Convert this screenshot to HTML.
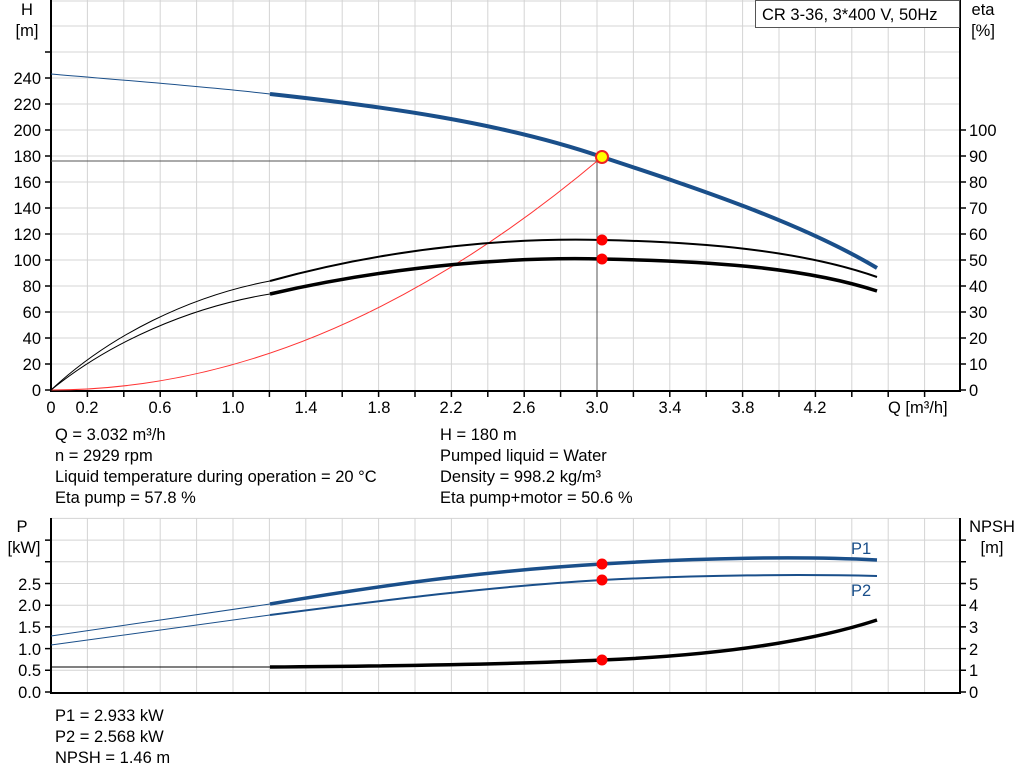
<!DOCTYPE html>
<html><head><meta charset="utf-8"><style>
body{margin:0;background:#fff}
svg{display:block;font-family:"Liberation Sans",sans-serif}
</style></head><body>
<svg width="1024" height="781" viewBox="0 0 1024 781" xmlns="http://www.w3.org/2000/svg">
<g stroke="#d4d4d4" stroke-width="1">
<path d="M87.4 0V390M123.8 0V390M160.2 0V390M196.6 0V390M233 0V390M269.4 0V390M305.8 0V390M342.2 0V390M378.6 0V390M415 0V390M451.4 0V390M487.8 0V390M524.2 0V390M560.6 0V390M597 0V390M633.4 0V390M669.8 0V390M706.2 0V390M742.6 0V390M779 0V390M815.4 0V390M851.8 0V390M888.2 0V390M924.6 0V390"/>
<path d="M51 364H959M51 338H959M51 312H959M51 286H959M51 260H959M51 234H959M51 208H959M51 182H959M51 156H959M51 130H959M51 104H959M51 78H959M51 52H959M51 26H959M51 1H959"/>
<path d="M87.4 518V692M123.8 518V692M160.2 518V692M196.6 518V692M233 518V692M269.4 518V692M305.8 518V692M342.2 518V692M378.6 518V692M415 518V692M451.4 518V692M487.8 518V692M524.2 518V692M560.6 518V692M597 518V692M633.4 518V692M669.8 518V692M706.2 518V692M742.6 518V692M779 518V692M815.4 518V692M851.8 518V692M888.2 518V692M924.6 518V692"/>
<path d="M51 670.3H959M51 648.6H959M51 626.9H959M51 605.2H959M51 583.5H959M51 561.8H959M51 540.1H959M51 518.4H959"/>
</g>
<g stroke="#000" stroke-width="2" fill="none">
<path d="M51 0V391H960V0"/>
<path d="M51 518V693H960V518"/>
</g>
<g stroke="#000" stroke-width="1.5">
<path d="M45 390H51M45 364H51M45 338H51M45 312H51M45 286H51M45 260H51M45 234H51M45 208H51M45 182H51M45 156H51M45 130H51M45 104H51M45 78H51M45 52H51"/>
<path d="M959 390H966M959 364H966M959 338H966M959 312H966M959 286H966M959 260H966M959 234H966M959 208H966M959 182H966M959 156H966M959 130H966"/>
<path d="M87.4 390V397M123.8 390V397M160.2 390V397M196.6 390V397M233 390V397M269.4 390V397M305.8 390V397M342.2 390V397M378.6 390V397M415 390V397M451.4 390V397M487.8 390V397M524.2 390V397M560.6 390V397M597 390V397M633.4 390V397M669.8 390V397M706.2 390V397M742.6 390V397M779 390V397M815.4 390V397M851.8 390V397M888.2 390V397M924.6 390V397"/>
<path d="M45 692H51M45 670.3H51M45 648.6H51M45 626.9H51M45 605.2H51M45 583.5H51M45 561.8H51M45 540.1H51"/>
<path d="M959 692H966M959 670.3H966M959 648.6H966M959 626.9H966M959 605.2H966M959 583.5H966M959 561.8H966M959 540.1H966"/>
</g>
<g font-size="16.5" fill="#000" text-anchor="end">
<text x="41" y="396">0</text><text x="41" y="370">20</text><text x="41" y="344">40</text><text x="41" y="318">60</text><text x="41" y="292">80</text><text x="41" y="266">100</text><text x="41" y="240">120</text><text x="41" y="214">140</text><text x="41" y="188">160</text><text x="41" y="162">180</text><text x="41" y="136">200</text><text x="41" y="110">220</text><text x="41" y="84">240</text>
<text x="41" y="698">0.0</text><text x="41" y="676">0.5</text><text x="41" y="655">1.0</text><text x="41" y="633">1.5</text><text x="41" y="611">2.0</text><text x="41" y="590">2.5</text>
</g>
<g font-size="16.5" fill="#000">
<text x="969" y="396">0</text><text x="969" y="370">10</text><text x="969" y="344">20</text><text x="969" y="318">30</text><text x="969" y="292">40</text><text x="969" y="266">50</text><text x="969" y="240">60</text><text x="969" y="214">70</text><text x="969" y="188">80</text><text x="969" y="162">90</text><text x="969" y="136">100</text>
<text x="969" y="698">0</text><text x="969" y="676">1</text><text x="969" y="655">2</text><text x="969" y="633">3</text><text x="969" y="611">4</text><text x="969" y="590">5</text>
</g>
<g font-size="16.5" fill="#000" text-anchor="middle">
<text x="51" y="413">0</text><text x="87" y="413">0.2</text><text x="160" y="413">0.6</text><text x="233" y="413">1.0</text><text x="306" y="413">1.4</text><text x="379" y="413">1.8</text><text x="451" y="413">2.2</text><text x="524" y="413">2.6</text><text x="597" y="413">3.0</text><text x="670" y="413">3.4</text><text x="743" y="413">3.8</text><text x="815" y="413">4.2</text>
<text x="27" y="15">H</text><text x="27" y="36">[m]</text>
<text x="983" y="15">eta</text><text x="983" y="36">[%]</text>
<text x="22" y="532">P</text><text x="24" y="553">[kW]</text>
<text x="992" y="532">NPSH</text><text x="992" y="553">[m]</text>
</g>
<text x="888" y="413" font-size="16.5">Q [m³/h]</text>
<rect x="755.5" y="0.5" width="204" height="27" fill="#fff" stroke="#555"/>
<text x="762" y="20" font-size="16.5">CR 3-36, 3*400 V, 50Hz</text>
<path d="M51 161H602M597 161V390" stroke="#555" stroke-width="1" fill="none"/>
<path d="M51 390 Q326 390 602 157" stroke="#f33" stroke-width="1" fill="none"/>
<path d="M51 74 C120 80 200 86 270 94" stroke="#1a4f8a" stroke-width="1" fill="none"/>
<path d="M270 94 C380 106 500 122 602 157 C690 186 800 222 877 268" stroke="#1a4f8a" stroke-width="4" fill="none"/>
<path d="M51 390 C110 335 190 296 270 281" stroke="#000" stroke-width="1" fill="none"/>
<path d="M270 281 C400 245 520 238 602 240 C700 242 800 250 877 277" stroke="#000" stroke-width="2" fill="none"/>
<path d="M51 390 C110 342 190 307 270 294" stroke="#000" stroke-width="1" fill="none"/>
<path d="M270 294 C400 264 520 257 602 259 C700 261 800 266 877 291" stroke="#000" stroke-width="3.5" fill="none"/>
<circle cx="602" cy="240" r="5.5" fill="#f00"/><circle cx="602" cy="259" r="5.5" fill="#f00"/>
<circle cx="602" cy="157" r="6" fill="#ff0" stroke="#e22" stroke-width="2"/>
<path d="M51 636 L270 604" stroke="#1a4f8a" stroke-width="1" fill="none"/>
<path d="M270 604 C400 582 500 570 602 564 C700 558 800 556 877 560" stroke="#1a4f8a" stroke-width="3.5" fill="none"/>
<path d="M51 645 L270 615" stroke="#1a4f8a" stroke-width="1" fill="none"/>
<path d="M270 615 C400 598 500 586 602 580 C700 575 800 574 877 576" stroke="#1a4f8a" stroke-width="2" fill="none"/>
<path d="M51 667H270" stroke="#000" stroke-width="1"/>
<path d="M270 667 C400 666 520 664 602 660 C700 656 800 645 877 620" stroke="#000" stroke-width="3.5" fill="none"/>
<circle cx="602" cy="564" r="5.5" fill="#f00"/><circle cx="602" cy="580" r="5.5" fill="#f00"/><circle cx="602" cy="660" r="5.5" fill="#f00"/>
<text x="851" y="554" font-size="16.5" fill="#1a4f8a">P1</text>
<text x="851" y="596" font-size="16.5" fill="#1a4f8a">P2</text>
<g font-size="16.5" fill="#000">
<text x="55" y="440">Q = 3.032 m³/h</text><text x="55" y="461">n = 2929 rpm</text><text x="55" y="482">Liquid temperature during operation = 20 °C</text><text x="55" y="503">Eta pump = 57.8 %</text>
<text x="440" y="440">H = 180 m</text><text x="440" y="461">Pumped liquid = Water</text><text x="440" y="482">Density = 998.2 kg/m³</text><text x="440" y="503">Eta pump+motor = 50.6 %</text>
<text x="55" y="721">P1 = 2.933 kW</text><text x="55" y="742">P2 = 2.568 kW</text><text x="55" y="763">NPSH = 1.46 m</text>
</g>
</svg>
</body></html>
